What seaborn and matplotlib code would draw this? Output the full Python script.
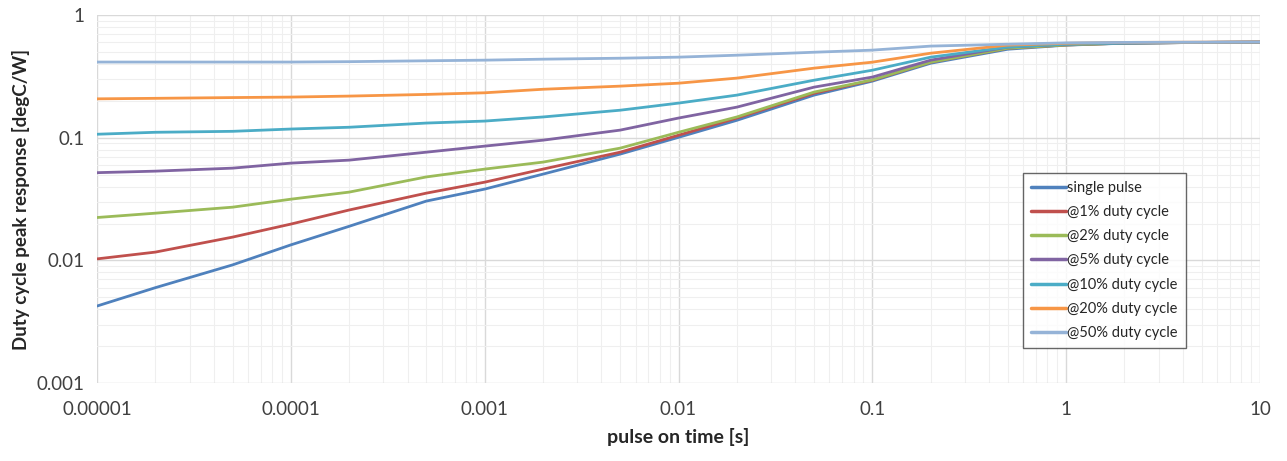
import numpy as np
import pandas as pd
import seaborn as sns
import matplotlib.pyplot as plt
from matplotlib.ticker import LogLocator, FixedLocator, FixedFormatter, NullFormatter

# pulse on time [s]
pulse_time = [1e-5, 2e-5, 5e-5, 1e-4, 2e-4, 5e-4, 1e-3, 2e-3, 5e-3, 1e-2,
              2e-2, 5e-2, 0.1, 0.2, 0.5, 1, 2, 5, 10]

single = [0.00425, 0.0060, 0.0092, 0.0134, 0.0190, 0.0305, 0.0382, 0.0506, 0.0737, 0.101,
          0.139, 0.223, 0.29, 0.406, 0.528, 0.570, 0.591, 0.60, 0.603]
duty1 = [0.0103, 0.0117, 0.0155, 0.0198, 0.0258, 0.0354, 0.0435, 0.0556, 0.0764, 0.105,
         0.145, 0.231, 0.295, 0.414, 0.538, 0.572, 0.592, 0.60, 0.603]
duty2 = [0.0224, 0.0243, 0.0272, 0.0316, 0.0361, 0.0480, 0.0556, 0.0634, 0.0824, 0.111,
         0.148, 0.236, 0.297, 0.414, 0.538, 0.572, 0.592, 0.60, 0.603]
duty5 = [0.0520, 0.0535, 0.0566, 0.0622, 0.0658, 0.0764, 0.0856, 0.0957, 0.1156, 0.145,
         0.178, 0.259, 0.313, 0.43, 0.55, 0.58, 0.593, 0.60, 0.603]
duty10 = [0.107, 0.111, 0.113, 0.118, 0.122, 0.132, 0.137, 0.148, 0.168, 0.192,
          0.223, 0.295, 0.356, 0.455, 0.55, 0.58, 0.593, 0.60, 0.603]
duty20 = [0.208, 0.210, 0.213, 0.215, 0.219, 0.226, 0.233, 0.249, 0.264, 0.279,
          0.307, 0.370, 0.414, 0.49, 0.57, 0.59, 0.60, 0.603, 0.605]
duty50 = [0.415, 0.415, 0.415, 0.415, 0.418, 0.425, 0.43, 0.438, 0.446, 0.455,
          0.472, 0.499, 0.519, 0.56, 0.58, 0.595, 0.60, 0.603, 0.605]

series_names = ['single pulse', '@1% duty cycle', '@2% duty cycle', '@5% duty cycle',
                '@10% duty cycle', '@20% duty cycle', '@50% duty cycle']
series_values = [single, duty1, duty2, duty5, duty10, duty20, duty50]
colors = ['#4F81BD', '#C0504D', '#9BBB59', '#8064A2', '#4BACC6', '#F79646', '#95B3D7']

x_ticks = [1e-5, 1e-4, 1e-3, 1e-2, 1e-1, 1, 10]
x_labels = ['0.00001', '0.0001', '0.001', '0.01', '0.1', '1', '10']
y_ticks = [0.001, 0.01, 0.1, 1]
y_labels = ['0.001', '0.01', '0.1', '1']

df = pd.DataFrame({
    'series': np.repeat(series_names, len(pulse_time)),
    'time': pulse_time * len(series_names),
    'value': np.concatenate(series_values),
})

sns.set_style('white')
plt.rcParams['font.family'] = ['Lato', 'DejaVu Sans']

fig = plt.figure(figsize=(12.87, 4.61), dpi=100)
ax = fig.add_axes([0.0754, 0.169, 0.9036, 0.798])

sns.lineplot(data=df, x='time', y='value', hue='series', hue_order=series_names,
             palette=colors, linewidth=2.0, ax=ax, sort=False)

ax.set_xscale('log')
ax.set_yscale('log')
ax.set_xlim(1e-5, 10)
ax.set_ylim(0.001, 1)

ax.xaxis.set_major_locator(FixedLocator(x_ticks))
ax.xaxis.set_major_formatter(FixedFormatter(x_labels))
ax.yaxis.set_major_locator(FixedLocator(y_ticks))
ax.yaxis.set_major_formatter(FixedFormatter(y_labels))
ax.xaxis.set_minor_locator(LogLocator(base=10, subs=np.arange(2, 10), numticks=20))
ax.yaxis.set_minor_locator(LogLocator(base=10, subs=np.arange(2, 10), numticks=20))
ax.xaxis.set_minor_formatter(NullFormatter())
ax.yaxis.set_minor_formatter(NullFormatter())

ax.grid(True, which='major', color='#D9D9D9', linewidth=1.0)
ax.grid(True, which='minor', color='#EFEFEF', linewidth=0.8)
ax.set_axisbelow(True)
for s in ax.spines.values():
    s.set_visible(False)
ax.tick_params(which='both', length=0)
ax.tick_params(axis='x', labelsize=13.5, colors='#404040', pad=13)
ax.tick_params(axis='y', labelsize=13.5, colors='#404040', pad=9)

ax.set_xlabel('pulse on time [s]', fontsize=14, fontweight='bold', color='#262626', labelpad=7)
ax.set_ylabel('Duty cycle peak response [degC/W]', fontsize=13.5, fontweight='bold',
              color='#262626', labelpad=5)

leg = ax.legend(loc='lower left', bbox_to_anchor=(0.796, 0.095), frameon=True,
                fontsize=10.5, handlelength=2.4, handletextpad=0.1, borderpad=0.55,
                labelspacing=0.7, fancybox=False, borderaxespad=0)
leg.get_frame().set_edgecolor('#404040')
leg.get_frame().set_linewidth(1.0)
for line in leg.get_lines():
    line.set_linewidth(2.5)
for t in leg.get_texts():
    t.set_color('#262626')

fig.savefig('out.png', dpi=100)
